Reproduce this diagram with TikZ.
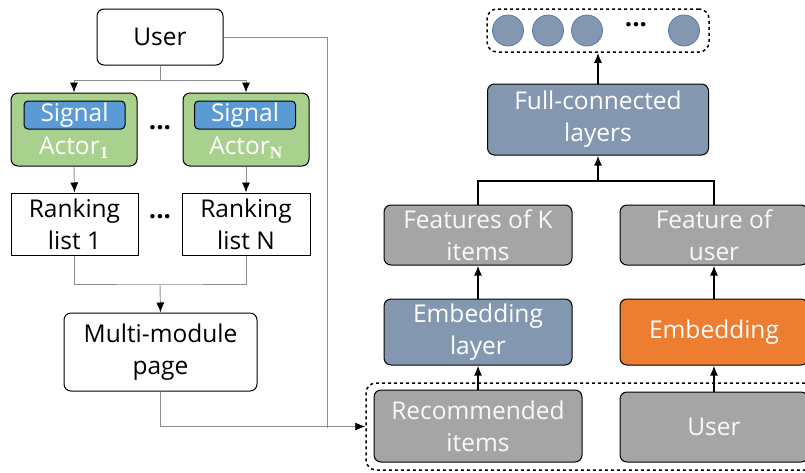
\documentclass[tikz,border=0pt]{standalone}
\usepackage{fontspec}
\setmainfont{Open Sans}
\newfontfamily\subserif{Liberation Serif}
\usetikzlibrary{arrows.meta}
\definecolor{actgreen}{HTML}{A9D18E}
\definecolor{sigblue}{HTML}{5B9BD5}
\definecolor{slate}{HTML}{8497B0}
\definecolor{slateedge}{HTML}{5A7AA8}
\definecolor{boxgray}{HTML}{A5A5A5}
\definecolor{embor}{HTML}{ED7D31}
\definecolor{wiregray}{HTML}{8C8C8C}
\tikzset{every picture/.style={line width=1pt}}
\tikzset{box/.style={draw, rounded corners=7pt, align=center, inner sep=0pt, font=\fontsize{24.5}{32}\selectfont}}
\tikzset{wbox/.style={box, fill=white}}
\tikzset{sqbox/.style={box, rounded corners=0pt}}
\tikzset{actor/.style={box, fill=actgreen, minimum width=126pt, minimum height=73pt}}
\tikzset{sig/.style={box, fill=sigblue, text=white, rounded corners=4pt, minimum width=101pt, minimum height=28pt}}
\tikzset{gbox/.style={box, fill=boxgray, text=white!95!gray}}
\tikzset{lbox/.style={box, fill=slate, text=white}}
\tikzset{obox/.style={box, fill=embor, text=white}}
\tikzset{dbox/.style={draw, dashed, line width=1.5pt, rounded corners=10pt, inner sep=0pt}}
\tikzset{unit/.style={circle, fill=slate, draw=slateedge, line width=0.8pt, minimum size=31pt, inner sep=0pt}}
\tikzset{gline/.style={draw=wiregray, line width=0.9pt}}
\tikzset{garrow/.style={gline, -{Latex[color=black, length=10pt, width=8pt]}}}
\tikzset{barrow/.style={line width=1.6pt, -{Latex[length=10pt, width=8pt]}}}
\newcommand{\dotz}{{\fontsize{26}{26}\selectfont\bfseries...}}
\newcommand{\sub}[1]{\textsubscript{\subserif\bfseries #1}}

\begin{document}
\begin{tikzpicture}[x=1pt,y=-1pt]
    \useasboundingbox (0,0) rectangle (805,472);
    % left: from user to the page
    \node[wbox, minimum width=126pt, minimum height=56pt] (user) at (160,37) {User};
    \node[actor] (a1) at (74,129.5) {};
    \node[actor] (aN) at (246,129.5) {};
    \node[sig] (s1) at (74.5,115) {\raisebox{-3pt}{Signal}};
    \node[sig] (sN) at (245,115) {\raisebox{-3pt}{Signal}};
    \node[box, draw=none, text=white] (t1) at (74,148) {Actor\sub{1}};
    \node[box, draw=none, text=white] (tN) at (246,148) {Actor\sub{N}};
    \node (d1) at (160,128) {\dotz};
    \node[sqbox, minimum width=127pt, minimum height=62pt] (r1) at (74.5,224) {Ranking\\list 1};
    \node[sqbox, minimum width=128pt, minimum height=62pt] (rN) at (246,224) {Ranking\\list N};
    \node (d2) at (160,217) {\dotz};
    \node[wbox, minimum width=193pt, minimum height=78pt] (mm) at (160.5,352) {Multi-module\\page};
    \coordinate (ufork) at (160,80);
    \coordinate (mfork) at (160,284);
    \coordinate (join) at (327,428);
    \draw[gline] (user.south) -- (ufork);
    \draw[garrow] (ufork) -| (a1.north);
    \draw[garrow] (ufork) -| (aN.north);
    \draw[garrow] (a1.south) -- (r1.north);
    \draw[garrow] (aN.south) -- (rN.north);
    \draw[gline] (r1.south) |- (mfork) -| (rN.south);
    \draw[garrow] (mfork) -- (mm.north);
    \draw[gline] (user.east) -| (join);
    % right: the network
    \node[dbox, minimum width=449pt, minimum height=87pt] (inbox) at (590.5,426.5) {};
    \node[gbox, minimum width=208pt, minimum height=72pt] (rec) at (478,426) {Recommended\\items};
    \node[gbox, minimum width=188pt, minimum height=70pt] (usr) at (714,427) {User};
    \node[lbox, minimum width=188pt, minimum height=66pt] (emb) at (478,332) {Embedding\\layer};
    \node[obox, minimum width=188pt, minimum height=66pt] (embu) at (714,332) {Embedding};
    \node[gbox, minimum width=188pt, minimum height=60pt] (fk) at (478,235) {Features of K\\items};
    \node[gbox, minimum width=188pt, minimum height=60pt] (fu) at (714,235) {Feature of\\user};
    \node[lbox, minimum width=221pt, minimum height=71pt] (fc) at (598,119.5) {Full-connected\\layers};
    \node[dbox, minimum width=222pt, minimum height=43pt] (outbox) at (598,30.5) {};
    \foreach \x/\n in {508/1, 548/2, 587/3, 684/4}
        \node[unit] (o\n) at (\x,30.5) {};
    \node (d3) at (636,25) {\dotz};
    \coordinate (fcin) at (598,181);
    \draw[garrow] (mm.south) |- (inbox.west);
    \draw[barrow] (rec.north) -- (emb.south);
    \draw[barrow] (usr.north) -- (embu.south);
    \draw[barrow] (emb.north) -- (fk.south);
    \draw[barrow] (embu.north) -- (fu.south);
    \draw[line width=1.6pt] (fk.north) |- (fcin) -| (fu.north);
    \draw[barrow] (fcin) -- (fc.south);
    \draw[barrow] (fc.north) -- (outbox.south);
\end{tikzpicture}
\end{document}
